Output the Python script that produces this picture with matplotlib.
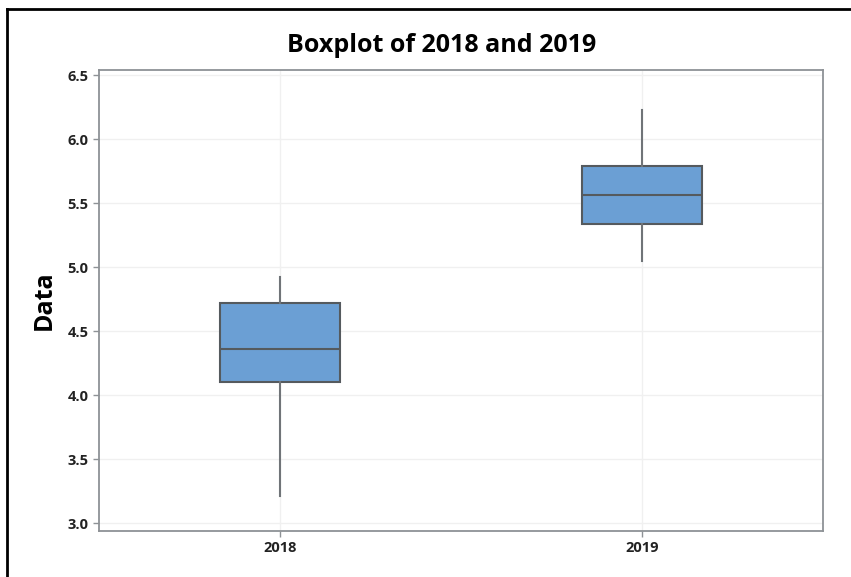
import matplotlib.pyplot as plt
from matplotlib.lines import Line2D

# five-number summaries
years = ['2018', '2019']
lower_whisker = [3.21, 5.05]
q1 = [4.10, 5.34]
median = [4.36, 5.56]
q3 = [4.72, 5.79]
upper_whisker = [4.92, 6.23]
yticks = [3.0, 3.5, 4.0, 4.5, 5.0, 5.5, 6.0, 6.5]

BOX = '#6b9fd4'
EDGE = '#555a5e'
plt.rcParams['font.family'] = ['Open Sans', 'DejaVu Sans']

fig = plt.figure(figsize=(8.51, 5.77), dpi=100)
ax = fig.add_axes([99/851, 1 - 531/577, 724/851, 461/577])

stats = []
for i, yr in enumerate(years):
    stats.append(dict(label=yr, whislo=lower_whisker[i], q1=q1[i], med=median[i],
                      q3=q3[i], whishi=upper_whisker[i], fliers=[]))

ax.bxp(stats, positions=[1, 2], widths=0.334, patch_artist=True, showcaps=False,
       boxprops=dict(facecolor=BOX, edgecolor=EDGE, linewidth=1.5),
       medianprops=dict(color=EDGE, linewidth=1.5),
       whiskerprops=dict(color='#707478', linewidth=1.5), zorder=3)

ax.set_xlim(0.5, 2.5)
ax.set_ylim(2.94, 6.54)
ax.set_yticks(yticks)
ax.set_yticklabels([f'{v:.1f}' for v in yticks])
ax.grid(True, color='#f0f0f0', linewidth=1.0, zorder=0)
ax.set_axisbelow(True)
for s in ax.spines.values():
    s.set_color('#8e9296')
    s.set_linewidth(1.3)
ax.tick_params(colors='#8e9296', length=4, width=1, labelcolor='#222222', labelsize=10.5)
for lab in ax.get_xticklabels() + ax.get_yticklabels():
    lab.set_fontweight('bold')

ax.set_ylabel('Data', fontsize=18, fontweight='bold', labelpad=8)
fig.text(442/851, 1 - 46/577, 'Boxplot of 2018 and 2019', ha='center', va='center',
         fontsize=18, fontweight='bold')

# black frame around the picture (top and left edges)
fig.add_artist(Line2D([7/851, 1], [1 - 9/577, 1 - 9/577], color='black', linewidth=2))
fig.add_artist(Line2D([7/851, 7/851], [0, 1 - 9/577], color='black', linewidth=2))

fig.savefig('out.png', dpi=100)
